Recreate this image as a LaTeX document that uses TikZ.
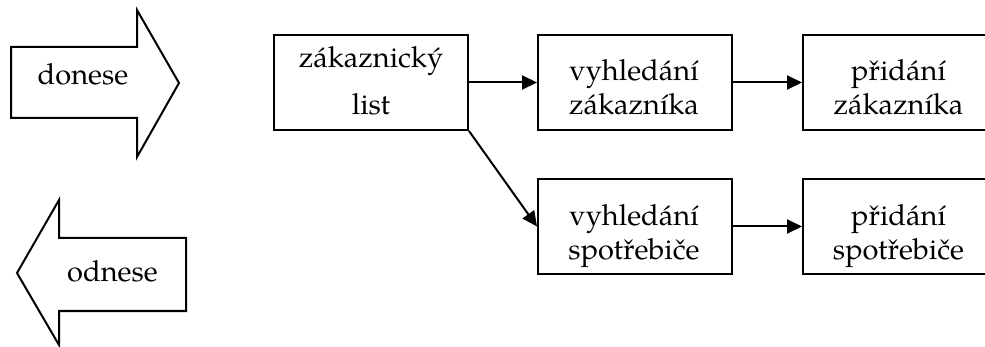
\documentclass[tikz,border=0pt]{standalone}
\usepackage{fontspec}
\setmainfont{TeX Gyre Pagella}
\usetikzlibrary{arrows.meta}

\begin{document}
\begin{tikzpicture}[x=1pt,y=-1pt,
  line width=2pt,
  box/.style={draw, rectangle, inner sep=0pt, minimum width=194pt, minimum height=95pt},
  % multi-line nodes sit on the baseline of their last line
  txt/.style={align=center, inner sep=0pt, anchor=base, font=\fontsize{29}{34}\selectfont},
  widetxt/.style={txt, font=\fontsize{29}{47}\selectfont},
  flow/.style={-{Triangle[length=15pt,width=14pt]}, line width=2pt}]

  \useasboundingbox (0,0) rectangle (985,347);

  % block arrows on the left
  \draw[line join=miter] (11,47) -- (137,47) -- (137,10) -- (179,83) -- (137,157)
        -- (137,118) -- (11,118) -- cycle;
  \node[txt] (donese) at (83,85) {donese};

  \draw[line join=miter] (186,238) -- (59,238) -- (59,200) -- (17,273) -- (59,345)
        -- (59,311) -- (186,311) -- cycle;
  \node[txt] (odnese) at (112.5,282) {odnese};

  % process boxes
  \node[box] (list) at (371,82.5) {};
  \node[box] (vz)   at (635,82.5) {};
  \node[box] (pz)   at (900,82.5) {};
  \node[box] (vs)   at (635,226.5) {};
  \node[box] (ps)   at (900,226.5) {};

  \node[widetxt] (listt) at (371,115)   {zákaznický\\list};
  \node[txt]     (vzt)   at (634,115)   {vyhledání\\zákazníka};
  \node[txt]     (pzt)   at (898.5,115) {přidání\\zákazníka};
  \node[txt]     (vst)   at (634,259.5) {vyhledání\\spotřebiče};
  \node[txt]     (pst)   at (898.5,260) {přidání\\spotřebiče};

  % connectors
  \draw[flow] (list.east) -- (vz.west);
  \draw[flow] (vz.east) -- (pz.west);
  \draw[flow] (list.south east) -- (vs.west);
  \draw[flow] (vs.east) -- (ps.west);
\end{tikzpicture}
\end{document}
